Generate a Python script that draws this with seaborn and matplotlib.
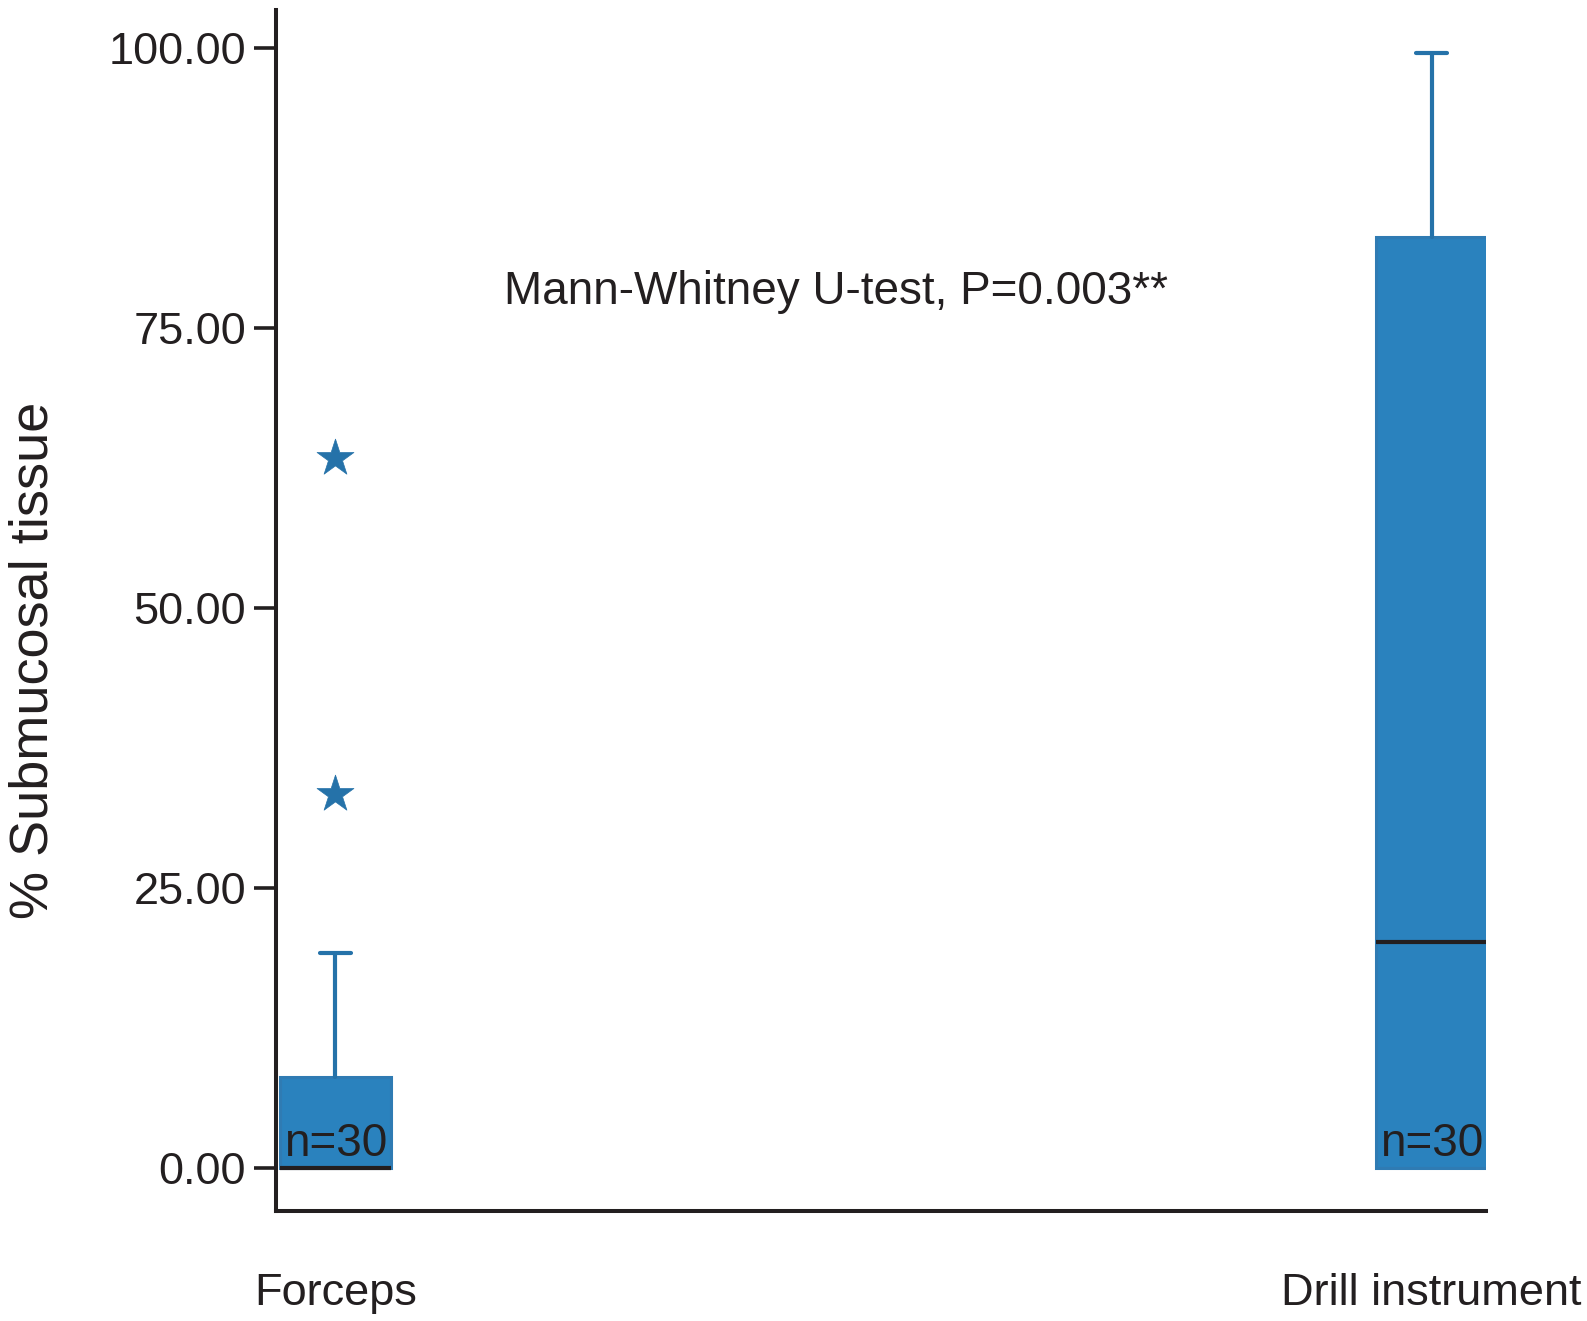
import matplotlib
matplotlib.use("Agg")
import matplotlib.pyplot as plt
import seaborn as sns
import pandas as pd

# ---- data ----
categories = ["Forceps", "Drill instrument"]
q1_values = [0.0, 0.0]
median_values = [0.0, 20.2]
q3_values = [8.1, 83.1]
whisker_low = [0.0, 0.0]
whisker_high = [19.2, 99.5]
outlier_group = ["Forceps", "Forceps"]
outlier_values = [33.4, 63.4]
n_labels = ["n=30", "n=30"]
y_ticks = [0, 25, 50, 75, 100]
y_tick_labels = ["0.00", "25.00", "50.00", "75.00", "100.00"]
annotation = "Mann-Whitney U-test, P=0.003**"
y_label = "% Submucosal tissue"

sns.set_style("ticks")
plt.rcParams['font.family'] = ['Liberation Sans', 'DejaVu Sans']

BOX_FILL = '#2a82be'
BOX_EDGE = '#2f7bb3'
LINE_BLUE = '#2572a9'
INK = '#231f20'

fig = plt.figure(figsize=(15.87, 13.21), dpi=100)
ax = fig.add_axes([0.1739, 0.0833, 0.7625, 0.9091])

positions = list(range(len(categories)))
stats = [dict(label=c, q1=a, med=m, q3=b, whislo=wl, whishi=wh, fliers=[])
         for c, a, m, b, wl, wh in zip(categories, q1_values, median_values,
                                       q3_values, whisker_low, whisker_high)]
parts = ax.bxp(stats, positions=positions, widths=0.101, capwidths=0.029,
               patch_artist=True, showfliers=False,
               boxprops=dict(facecolor=BOX_FILL, edgecolor=BOX_EDGE, linewidth=2.2),
               medianprops=dict(color=INK, linewidth=3.0, solid_capstyle='butt'),
               whiskerprops=dict(color=LINE_BLUE, linewidth=3.0),
               capprops=dict(color=LINE_BLUE, linewidth=3.0))
# lower whiskers/caps sit at zero inside the box: hide them
for i, cap in enumerate(parts['caps']):
    if i % 2 == 0:
        cap.set_visible(False)
for i, wk in enumerate(parts['whiskers']):
    if i % 2 == 0:
        wk.set_visible(False)

# outliers as stars
out_df = pd.DataFrame({"x": [positions[categories.index(g)] for g in outlier_group],
                       "y": outlier_values})
sns.scatterplot(data=out_df, x="x", y="y", marker="*", s=780, color=LINE_BLUE,
                edgecolor=LINE_BLUE, linewidth=0.5, ax=ax, legend=False, zorder=5)

# n labels
for p, lab in zip(positions, n_labels):
    ax.text(p, 1.1, lab, ha='center', va='baseline', fontsize=33, color=INK, zorder=6)

ax.text(0.1537, 78.2, annotation, ha='left', va='center', fontsize=33, color=INK)

ax.set_xlim(-0.0543, 1.0497)
ax.set_ylim(-3.84, 103.35)
ax.set_yticks(y_ticks)
ax.set_yticklabels(y_tick_labels)
ax.set_xticks(positions)
ax.set_xticklabels(categories)
ax.set_xlabel("")
ax.set_ylabel("")

ax.tick_params(axis='y', direction='out', length=15.5, width=2.6, color=INK,
               labelsize=32.5, labelcolor=INK, pad=6)
ax.tick_params(axis='x', length=0, labelsize=32.5, labelcolor=INK, pad=45)

for s in ['top', 'right']:
    ax.spines[s].set_visible(False)
for s in ['left', 'bottom']:
    ax.spines[s].set_color(INK)
    ax.spines[s].set_linewidth(2.9)

fig.text(33.5 / 1587, 1 - 660 / 1321, y_label, rotation=90, ha='center',
         va='center', fontsize=39, color=INK)

fig.savefig("out.png", dpi=100, facecolor='white')
